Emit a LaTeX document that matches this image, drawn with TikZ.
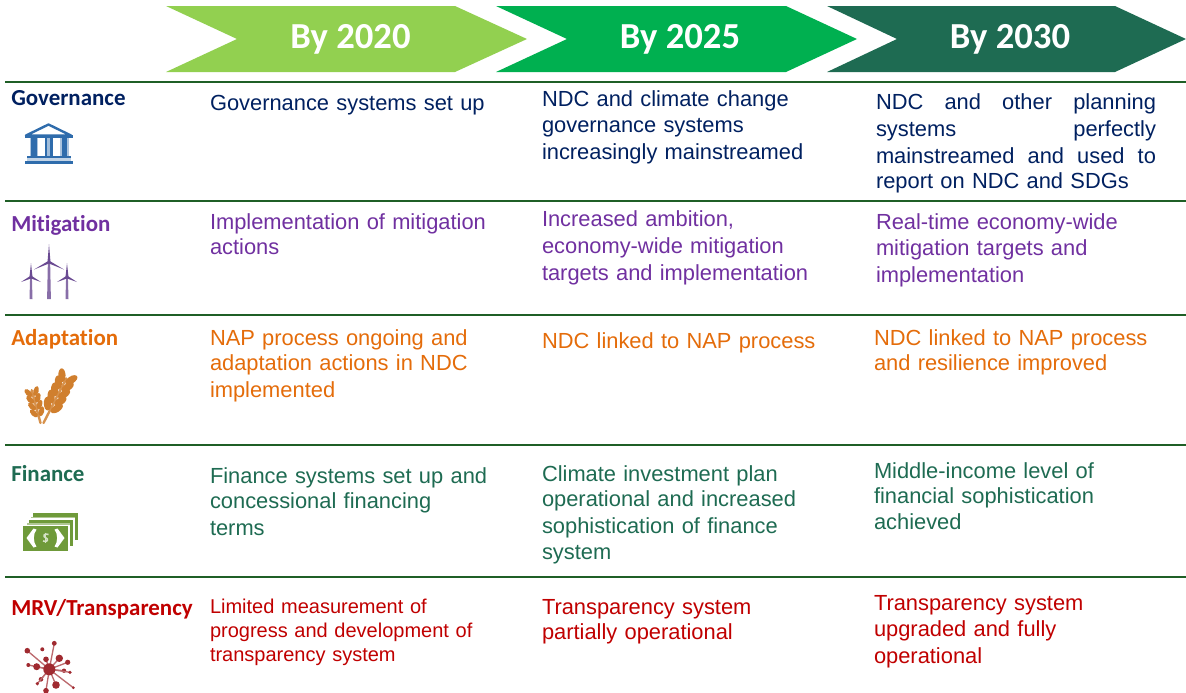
\documentclass[tikz,border=0pt]{standalone}
\usepackage{fontspec}
\setmainfont{Liberation Sans}
\newfontfamily\carlito[Ligatures=NoCommon]{Carlito}
\definecolor{navy}{HTML}{002060}
\definecolor{purp}{HTML}{7030A0}
\definecolor{oran}{HTML}{E46C0A}
\definecolor{fing}{HTML}{1E6B52}
\definecolor{redd}{HTML}{C00000}
\definecolor{lime}{HTML}{92D050}
\definecolor{midg}{HTML}{00B050}
\definecolor{rule}{HTML}{1F5F26}
\definecolor{bank}{HTML}{2F6CAC}
\definecolor{wind}{HTML}{6A4A92}
\definecolor{grain}{HTML}{D07F2E}
\definecolor{cash}{HTML}{6F9A3A}
\definecolor{netw}{HTML}{A02A30}
\tikzset{
  x=0.75pt,y=-0.75pt,
  cell/.style={anchor=north west,inner sep=0pt,outer sep=0pt,align=left,text width=#1*0.75pt},
  cell/.default=310,
  bodyf/.style={font=\fontsize{16.4}{19.7}\selectfont},
  smallf/.style={font=\fontsize{15}{18}\selectfont},
  rowlabel/.style={anchor=base west,inner sep=0pt,font=\carlito\bfseries\fontsize{17.2}{20}\selectfont},
  header/.style={anchor=center,inner sep=0pt,text=white,font=\carlito\bfseries\fontsize{27.5}{32}\selectfont},
  hline/.style={draw=rule,line width=1.1pt},
}
\newcommand{\ear}[7]{% x y angle length first step spread
  \begin{scope}[shift={(#1,#2)},rotate=#3]
    \draw[grain!85,line width=1.8pt,line cap=round] (0,0) -- (0,-#4+4);
    \foreach \k in {#5,#6,...,#4}{
      \fill[grain,shift={(#7*0.85,-\k)},rotate=-30] (0,0) ellipse [x radius=#7*0.58,y radius=#7*1.1];
      \fill[grain,shift={(-#7*0.85,-\k)},rotate=30] (0,0) ellipse [x radius=#7*0.58,y radius=#7*1.1];
    }
  \end{scope}}
\newcommand{\turbine}[6]{% hub x, hub y, base y, up blade, side blade, width
  \fill[wind!80] (#1-#6,#3) -- (#1-#6*0.6,#2) -- (#1+#6*0.6,#2) -- (#1+#6,#3) -- cycle;
  \fill[wind] (#1-1.5,#2) -- (#1,#2-#4) -- (#1+1.5,#2) -- cycle;
  \fill[wind] (#1,#2-1.5) -- (#1-#5,#2+#5*0.5) -- (#1,#2+1.5) -- (#1+#5,#2+#5*0.5) -- cycle;
  }
\begin{document}
\begin{tikzpicture}
\useasboundingbox (0,0) rectangle (1186,693);
% chevrons
\fill[lime] (166,6) -- (455,6) -- (527,39) -- (455,72) -- (166,72) -- (237,39) -- cycle;
\fill[midg] (496,6) -- (786,6) -- (857,39) -- (786,72) -- (496,72) -- (567,39) -- cycle;
\fill[fing] (827,6) -- (1115,6) -- (1186,39) -- (1115,72) -- (827,72) -- (897,39) -- cycle;
\node[header] (h1) at (350.5,39.5) {By 2020};
\node[header] (h2) at (680,39.5) {By 2025};
\node[header] (h3) at (1010,39.5) {By 2030};
% rules
\foreach \yy in {82,201,315,445,577}{\draw[hline] (5,\yy) -- (1186,\yy);}
% row labels
\node[rowlabel,text=navy] (l1) at (11,105) {Governance};
\node[rowlabel,text=purp] (l2) at (11,231) {Mitigation};
\node[rowlabel,text=oran] (l3) at (11,345) {Adaptation};
\node[rowlabel,text=fing] (l4) at (11,481) {Finance};
\node[rowlabel,text=redd] (l5) at (11,615) {MRV/Transparency};
% row 1
\node[cell,bodyf,text=navy] (g1) at (210,92.5) {\strut Governance systems set up};
\node[cell,bodyf,text=navy] (g2) at (542,88.2) {\strut NDC and climate change\\governance systems\\increasingly mainstreamed};
\node[cell=280,bodyf,text=navy] (g3) at (876,91.5) {\strut NDC\hfill and\hfill other\hfill planning\\systems\hfill perfectly\\[0.75pt]mainstreamed\hfill and\hfill used\hfill to\\[-1.2pt]report on NDC and SDGs};
% row 2
\node[cell,bodyf,text=purp] (m1) at (210,211) {\strut Implementation of mitigation\\[-0.75pt]actions};
\node[cell,bodyf,text=purp] (m2) at (542,208) {\strut Increased ambition,\\[0.5pt]economy-wide mitigation\\[0.5pt]targets and implementation};
\node[cell,bodyf,text=purp] (m3) at (876,211) {\strut Real-time economy-wide\\mitigation targets and\\[0.5pt]implementation};
% row 3
\node[cell,bodyf,text=oran] (a1) at (210,327) {\strut NAP process ongoing and\\[-1pt]adaptation actions in NDC\\[0.5pt]implemented};
\node[cell,bodyf,text=oran] (a2) at (542,330) {\strut NDC linked to NAP process};
\node[cell,bodyf,text=oran] (a3) at (874,327) {\strut NDC linked to NAP process\\[-1pt]and resilience improved};
% row 4
\node[cell,bodyf,text=fing] (f1) at (210,465) {\strut Finance systems set up and\\[-1pt]concessional financing\\[0.5pt]terms};
\node[cell,bodyf,text=fing] (f2) at (542,463) {\strut Climate investment plan\\[-1pt]operational and increased\\[0.5pt]sophistication of finance\\system};
\node[cell,bodyf,text=fing] (f3) at (874,460) {\strut Middle-income level of\\[-1pt]financial sophistication\\achieved};
% row 5
\node[cell,smallf,text=redd] (t1) at (210,597) {\strut Limited measurement of\\progress and development of\\transparency system};
\node[cell,bodyf,text=redd] (t2) at (542,596) {\strut Transparency system\\[-0.5pt]partially operational};
\node[cell,bodyf,text=redd] (t3) at (874,592) {\strut Transparency system\\upgraded and fully\\[0.5pt]operational};
% bank icon
\draw[bank,line width=1.8pt,line join=round,fill=white] (48.5,124.5) -- (71,135.5) -- (26,135.5) -- cycle;
\fill[bank] (25,135) rectangle (72.5,138);
\foreach \xa/\xb in {29.5/31,36.5/38,60/61.5,67/68.5}{\fill[bank!40] (\xa,138) rectangle (\xb,156);}
\foreach \xa/\xb in {31/36.5,44.5/47,50/52.5,61.5/67}{\fill[bank] (\xa,138) rectangle (\xb,156);}
\fill[bank!45] (47,138) rectangle (50,156);
\fill[bank] (27,156) rectangle (70.5,158);
\fill[bank!30] (27,158) rectangle (70.5,160.5);
\fill[bank] (24.5,160.5) rectangle (73,164);
% turbines
\turbine{49}{262}{299}{18}{15}{1.9}
\turbine{31}{277}{299}{14}{10}{1.5}
\turbine{67}{277}{299}{14}{10}{1.5}
% wheat
\ear{40.5}{423}{15}{38}{11}{18}{4.6}
\ear{43.5}{423}{-27}{54}{19}{27}{6.2}
% money
\fill[cash] (33,513) rectangle (78,540);
\fill[white!45!cash] (31,516.5) rectangle (74.5,518);
\fill[white] (31,518) rectangle (74.5,544.5);
\fill[cash] (29,519.5) rectangle (73,546);
\fill[white!45!cash] (27,523) rectangle (69.5,524.5);
\fill[white] (27,524.5) rectangle (69.5,550);
\fill[cash] (23,525.5) rectangle (68,551);
\fill[white] (26.5,538) -- (33.5,528.5) -- (36.5,529.5) .. controls (33,534) and (33,542) .. (36.5,546.5) -- (33.5,547.5) -- cycle;
\fill[white] (64.5,538) -- (57.5,528.5) -- (54.5,529.5) .. controls (58,534) and (58,542) .. (54.5,546.5) -- (57.5,547.5) -- cycle;
\draw[white!70!cash,line width=1.2pt] (48.5,534.5) .. controls (44,532.5) and (42.5,536.8) .. (45.7,537.8) .. controls (49,538.8) and (47.5,543) .. (43,541);
\draw[white!70!cash,line width=0.8pt] (45.7,532.5) -- (45.7,543);
% network
\foreach \px/\py/\pr in {54.3/643.3/2.4,27.3/650.7/2.8,46/659.3/2.8,59.3/658.3/3.7,67.7/662.3/2.6,28.3/665/2,36.7/666.7/3.5,64/670.7/2.2,70/672.3/1.8,73.3/687.7/1.5,56/685/3.8,41/679.3/2.3,37.3/683.7/1.8,46/690.7/2.8}{
  \draw[netw!70,line width=1pt] (49.3,669.3) -- (\px,\py);
  \fill[netw] (\px,\py) circle [radius=\pr];
}
\fill[netw] (42.3,649.3) circle [radius=2];
\fill[netw] (49.3,669.3) circle [radius=6];
\end{tikzpicture}
\end{document}
